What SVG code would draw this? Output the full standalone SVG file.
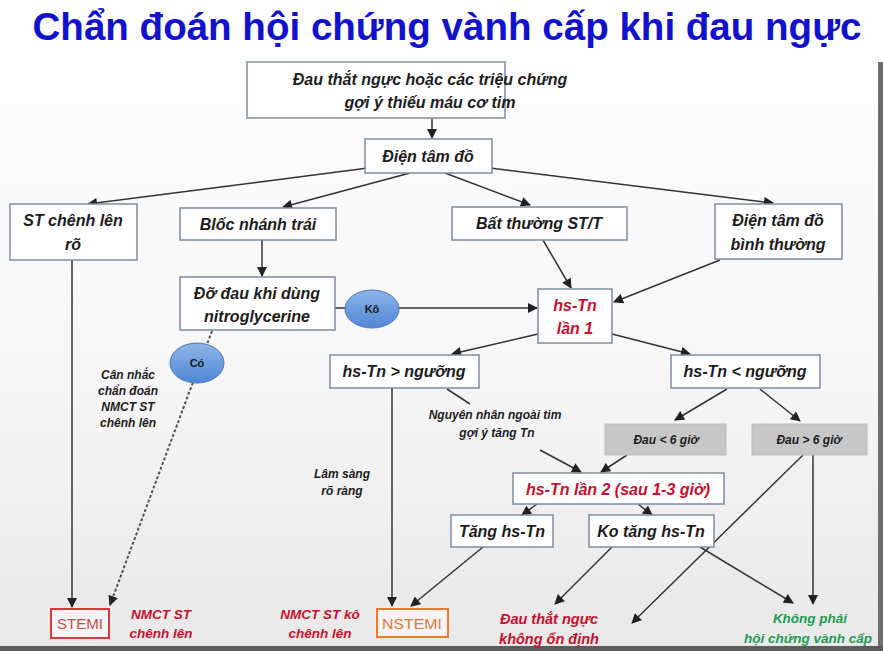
<svg xmlns="http://www.w3.org/2000/svg" width="883" height="651" viewBox="0 0 883 651">
<defs>
<linearGradient id="bg" x1="0" y1="0" x2="0" y2="1">
<stop offset="0" stop-color="#ffffff"/>
<stop offset="0.55" stop-color="#f7f7f7"/>
<stop offset="1" stop-color="#e8e8e8"/>
</linearGradient>
<marker id="ah" viewBox="0 0 10 10" refX="9" refY="5" markerWidth="11" markerHeight="10" markerUnits="userSpaceOnUse" orient="auto">
<path d="M0,0 L10,5 L0,10 z" fill="#222"/>
</marker>
<linearGradient id="ell" x1="0" y1="0" x2="0" y2="1">
<stop offset="0" stop-color="#8fb6ea"/>
<stop offset="1" stop-color="#4f86d3"/>
</linearGradient>
</defs>
<style>
.box{fill:#ffffff;stroke:#7d8d9e;stroke-width:1.5}
.gbox{fill:#c7c7c7;stroke:#bdbdbd;stroke-width:1}
.t{font-family:"Liberation Sans",Arial,sans-serif;font-weight:bold;font-style:italic;fill:#1c1c1c;text-anchor:middle}
.m{font-size:16px}
.s{font-size:12px}
.red{fill:#c8102e}
.green{fill:#1f9a55}
.c{stroke:#333;stroke-width:1.5;fill:none}
.cm{marker-end:url(#ah)}
.dot{stroke:#555;stroke-width:2;stroke-dasharray:3 2;fill:none;marker-end:url(#ah)}
.el{fill:url(#ell);stroke:#4a78b8;stroke-width:1}
.et{font-family:"Liberation Sans",Arial,sans-serif;font-weight:bold;font-size:11px;fill:#1a1a1a;text-anchor:middle}
</style>
<rect x="0" y="0" width="883" height="651" fill="url(#bg)"/>
<rect x="878" y="62" width="5" height="589" fill="#6e6e6e"/>
<rect x="0" y="646" width="883" height="5" fill="#5a5a5a"/>

<text x="447" y="40" font-family="Liberation Sans,Arial,sans-serif" font-weight="bold" font-size="39" fill="#1212cc" text-anchor="middle" textLength="829" lengthAdjust="spacingAndGlyphs">Chẩn đoán hội chứng vành cấp khi đau ngực</text>

<g id="connectors">
<line class="c cm" x1="432" y1="118" x2="432" y2="138"/>
<line class="c cm" x1="368" y1="168" x2="88" y2="204"/>
<line class="c cm" x1="410" y1="173" x2="283" y2="207"/>
<line class="c cm" x1="445" y1="173" x2="530" y2="205"/>
<line class="c cm" x1="490" y1="168" x2="773" y2="203"/>
<line class="c cm" x1="262" y1="240" x2="262" y2="276"/>
<line class="c cm" x1="335" y1="308" x2="537" y2="308"/>
<line class="c cm" x1="543" y1="240" x2="571" y2="288"/>
<line class="c cm" x1="720" y1="260" x2="614" y2="302"/>
<line class="c cm" x1="538" y1="334" x2="452" y2="354"/>
<line class="c cm" x1="612" y1="334" x2="690" y2="354"/>
<line class="c cm" x1="72" y1="260" x2="72" y2="607"/>
<line class="dot" x1="212" y1="331" x2="110" y2="605"/>
<line class="c cm" x1="392" y1="388" x2="392" y2="606"/>
<line class="c" x1="447" y1="389" x2="470" y2="404"/>
<line class="c cm" x1="540" y1="450" x2="581" y2="472"/>
<line class="c cm" x1="727" y1="389" x2="675" y2="420"/>
<line class="c cm" x1="760" y1="389" x2="800" y2="421"/>
<line class="c cm" x1="627" y1="455" x2="601" y2="472"/>
<line class="c cm" x1="537" y1="504" x2="522" y2="515"/>
<line class="c cm" x1="638" y1="504" x2="652" y2="515"/>
<line class="c cm" x1="483" y1="547" x2="411" y2="606"/>
<line class="c cm" x1="612" y1="547" x2="555" y2="604"/>
<line class="c cm" x1="700" y1="547" x2="793" y2="603"/>
<line class="c cm" x1="803" y1="455" x2="632" y2="623"/>
<line class="c cm" x1="813" y1="455" x2="813" y2="604"/>
</g>

<g id="n-top"><rect class="box" x="247" y="62" width="258" height="56"/>
<text class="t m" x="430" y="85">Đau thắt ngực hoặc các triệu chứng</text>
<text class="t m" x="430" y="108">gợi ý thiếu máu cơ tim</text></g>

<g id="n-ecg"><rect class="box" x="365" y="139" width="127" height="34"/>
<text class="t m" x="428" y="162">Điện tâm đồ</text></g>

<g id="n-ste"><rect class="box" x="10" y="204" width="127" height="56"/>
<text class="t m" x="73" y="226">ST chênh lên</text>
<text class="t m" x="73" y="250">rõ</text></g>

<g id="n-lbbb"><rect class="box" x="180" y="208" width="156" height="32"/>
<text class="t m" x="258" y="230">Blốc nhánh trái</text></g>

<g id="n-stt"><rect class="box" x="452" y="207" width="175" height="33"/>
<text class="t m" x="539" y="229">Bất thường ST/T</text></g>

<g id="n-normal"><rect class="box" x="715" y="204" width="127" height="55"/>
<text class="t m" x="778" y="226">Điện tâm đồ</text>
<text class="t m" x="778" y="250">bình thường</text></g>

<g id="n-nitro"><rect class="box" x="180" y="277" width="155" height="53"/>
<text class="t m" x="257" y="299">Đỡ đau khi dùng</text>
<text class="t m" x="257" y="322">nitroglycerine</text></g>

<g id="n-ko"><ellipse class="el" cx="372" cy="309" rx="27" ry="19"/>
<text class="et" x="372" y="313">Kô</text></g>

<g id="n-co"><ellipse class="el" cx="197" cy="363" rx="27" ry="20"/>
<text class="et" x="197" y="367">Có</text></g>

<g id="n-tn1"><rect class="box" x="538" y="289" width="74" height="54"/>
<text class="t m red" x="575" y="311">hs-Tn</text>
<text class="t m red" x="575" y="334">lần 1</text></g>

<g id="n-gt"><rect class="box" x="330" y="355" width="149" height="33"/>
<text class="t m" x="404" y="377">hs-Tn &gt; ngưỡng</text></g>

<g id="n-lt"><rect class="box" x="671" y="355" width="149" height="33"/>
<text class="t m" x="745" y="377">hs-Tn &lt; ngưỡng</text></g>

<g id="l-cannhac">
<text class="t s" x="128" y="379">Cân nhắc</text>
<text class="t s" x="128" y="395">chẩn đoán</text>
<text class="t s" x="128" y="411">NMCT ST</text>
<text class="t s" x="128" y="427">chênh lên</text></g>

<g id="l-nguyennhan">
<text class="t s" x="495" y="419">Nguyên nhân ngoài tim</text>
<text class="t s" x="497" y="437">gợi ý tăng Tn</text></g>

<g id="l-lamsang">
<text class="t s" x="342" y="478">Lâm sàng</text>
<text class="t s" x="342" y="495">rõ ràng</text></g>

<g id="n-lt6"><rect class="gbox" x="605" y="424" width="121" height="31"/>
<text class="t s" x="666" y="444">Đau &lt; 6 giờ</text></g>

<g id="n-gt6"><rect class="gbox" x="752" y="424" width="115" height="31"/>
<text class="t s" x="809" y="444">Đau &gt; 6 giờ</text></g>

<g id="n-tn2"><rect class="box" x="513" y="473" width="211" height="31"/>
<text class="t m red" x="618" y="495">hs-Tn lần 2 (sau 1-3 giờ)</text></g>

<g id="n-tang"><rect class="box" x="451" y="515" width="102" height="32"/>
<text class="t m" x="502" y="537">Tăng hs-Tn</text></g>

<g id="n-kotang"><rect class="box" x="589" y="515" width="125" height="32"/>
<text class="t m" x="651" y="537">Ko tăng hs-Tn</text></g>

<g id="n-stemi"><rect x="51" y="609" width="58" height="29" fill="#f4f4f4" stroke="#d83a3a" stroke-width="2"/>
<text x="80" y="629" font-family="Liberation Sans,Arial,sans-serif" font-size="15" fill="#cc4a4a" text-anchor="middle" textLength="46" lengthAdjust="spacingAndGlyphs">STEMI</text></g>

<g id="l-stemi">
<text class="t red" x="161" y="619" font-size="13.5">NMCT ST</text>
<text class="t red" x="161" y="638" font-size="13.5">chênh lên</text></g>

<g id="n-nstemi"><rect x="377" y="609" width="71" height="28" fill="#f4f4f4" stroke="#ea7a2e" stroke-width="2"/>
<text x="412" y="629" font-family="Liberation Sans,Arial,sans-serif" font-size="15" fill="#e07a3a" text-anchor="middle" textLength="60" lengthAdjust="spacingAndGlyphs">NSTEMI</text></g>

<g id="l-nstemi">
<text class="t red" x="320" y="619" font-size="13.5">NMCT ST kô</text>
<text class="t red" x="320" y="638" font-size="13.5">chênh lên</text></g>

<g id="l-ua">
<text class="t red" x="549" y="624" font-size="14.5">Đau thắt ngực</text>
<text class="t red" x="549" y="644" font-size="14.5">không ổn định</text></g>

<g id="l-notacs">
<text class="t green" x="810" y="623" font-size="13.5">Không phải</text>
<text class="t green" x="808" y="643" font-size="13.5">hội chứng vành cấp</text></g>
</svg>
